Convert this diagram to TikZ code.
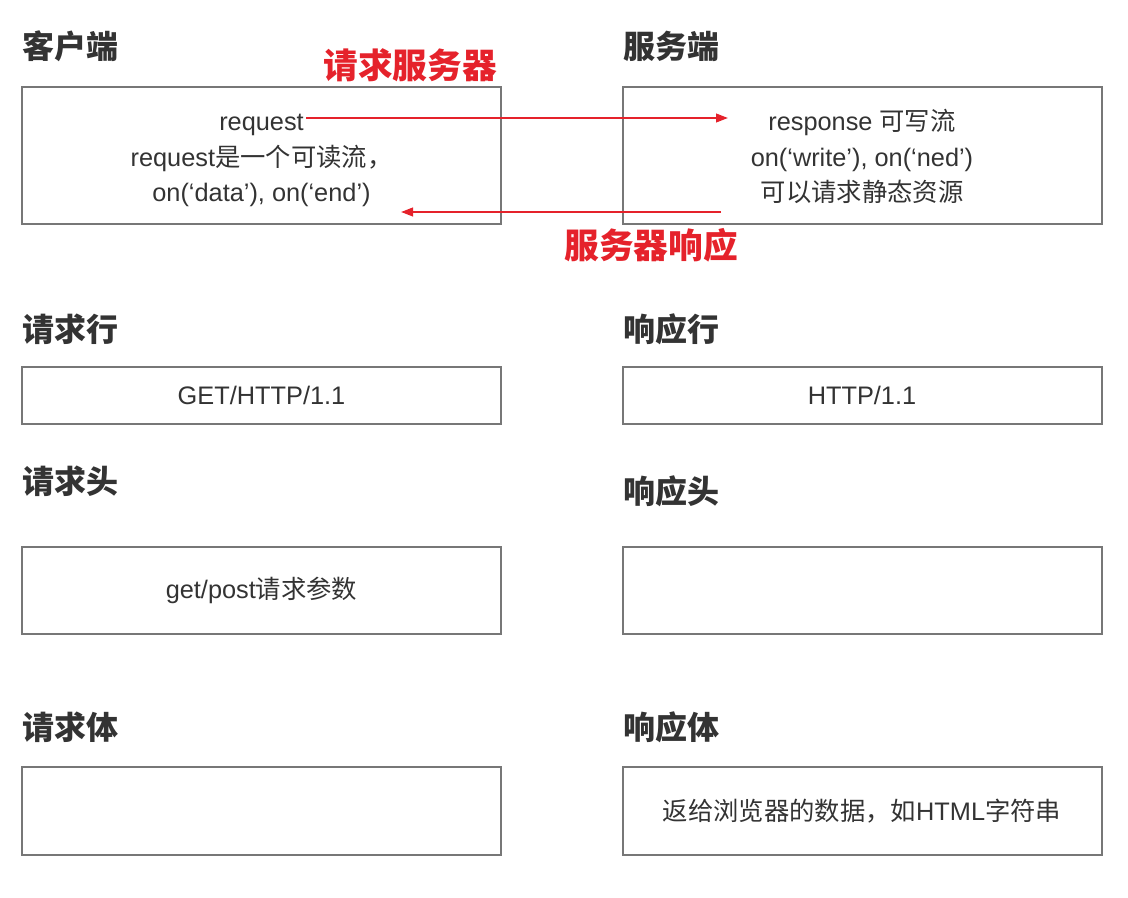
\documentclass[tikz,border=0pt]{standalone}
\usepackage{fontspec}
\setmainfont{Liberation Sans}
\newfontfamily\cjk{Noto Sans CJK SC}
\usetikzlibrary{arrows.meta}
\definecolor{txt}{HTML}{333333}
\definecolor{bord}{HTML}{777777}
\definecolor{redc}{HTML}{E5222B}
\newcommand\mytopstrut{\rule{0pt}{24pt}}
\begin{document}
\begin{tikzpicture}[x=0.75pt,y=-0.75pt,
  box/.style={draw=bord, line width=1.5pt, minimum width=359.25pt, inner sep=0pt,
    align=center, text=txt, font=\fontsize{19}{26.5}\selectfont},
  title/.style={anchor=west, inner sep=0pt, text=txt, font=\cjk\bfseries\fontsize{24}{28}\selectfont},
  redlabel/.style={inner sep=0pt, text=redc, font=\cjk\bfseries\fontsize{26}{30}\selectfont},
  arr/.style={draw=redc, line width=1.5pt, -{Triangle[length=9pt,width=6.5pt]}}]
\useasboundingbox (0,0) rectangle (1128,898);
% titles
\node[title] (tclient) at (22,46) {客户端};
\node[title] (tserver) at (623,46) {服务端};
\node[title] (treqline) at (22,329) {请求行};
\node[title] (tresline) at (623,329) {响应行};
\node[title] (treqhead) at (22,481) {请求头};
\node[title] (treshead) at (623,491) {响应头};
\node[title] (treqbody) at (22,727) {请求体};
\node[title] (tresbody) at (623,727) {响应体};
% boxes
\node[box, minimum height=102.75pt] (client) at (261.5,155.5)
  {\mytopstrut request\\request{\cjk 是一个可读流，}\\ on(‘data’), on(‘end’)\strut};
\node[box, minimum height=102.75pt] (server) at (862,155.5)
  {\mytopstrut response {\cjk 可写流}\\on(‘write’), on(‘ned’)\\{\cjk 可以请求静态资源}\strut};
\node[box, minimum height=42.75pt] (reqline) at (261.5,395.5) {GET/HTTP/1.1};
\node[box, minimum height=42.75pt] (resline) at (862,395.5) {HTTP/1.1};
\node[box, minimum height=65.25pt] (reqhead) at (261.5,590.5) {get/post{\cjk 请求参数}};
\node[box, minimum height=65.25pt] (reshead) at (862,590.5) {};
\node[box, minimum height=66pt] (reqbody) at (261.5,811) {};
\node[box, minimum height=66pt] (resbody) at (862,811) {{\cjk 返给浏览器的数据，如}HTML{\cjk 字符串}};
% red labels
\node[redlabel] (lreq) at (410,65) {请求服务器};
\node[redlabel] (lres) at (651,245) {服务器响应};
% arrows
\coordinate (reqS) at (306,118);
\coordinate (reqE) at (728,118);
\coordinate (resS) at (721,212);
\coordinate (resE) at (401,212);
\draw[arr] (reqS) -- (reqE);
\draw[arr] (resS) -- (resE);
\end{tikzpicture}
\end{document}
